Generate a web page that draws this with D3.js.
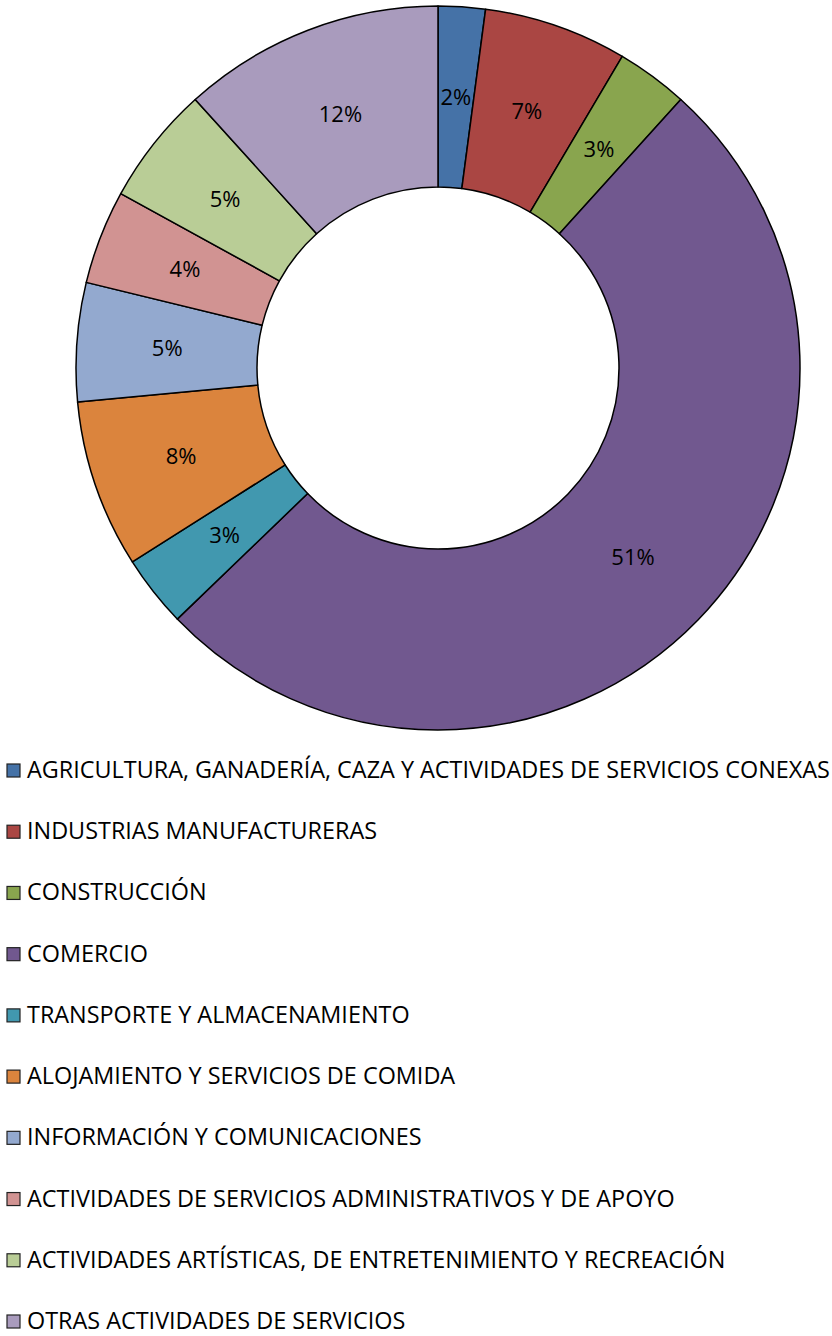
<!DOCTYPE html>
<html>
<head>
<meta charset="utf-8">
<script src="https://cdn.jsdelivr.net/npm/d3@7"></script>
<style>
  body { margin: 0; background: #fff; }
  svg { display: block; font-family: "Open Sans", sans-serif; }
</style>
</head>
<body>
<div id="container"></div>
<script>
/* DATA */
const categories = [
  "AGRICULTURA, GANADERÍA, CAZA Y ACTIVIDADES DE SERVICIOS CONEXAS",
  "INDUSTRIAS MANUFACTURERAS",
  "CONSTRUCCIÓN",
  "COMERCIO",
  "TRANSPORTE Y ALMACENAMIENTO",
  "ALOJAMIENTO Y SERVICIOS DE COMIDA",
  "INFORMACIÓN Y COMUNICACIONES",
  "ACTIVIDADES DE SERVICIOS ADMINISTRATIVOS Y DE APOYO",
  "ACTIVIDADES ARTÍSTICAS, DE ENTRETENIMIENTO Y RECREACIÓN",
  "OTRAS ACTIVIDADES DE SERVICIOS"
];
// share of each sector
const shares = [2.1, 6.4, 3.2, 51.1, 3.2, 7.5, 5.3, 4.2, 5.3, 11.7];
// labels as printed on the chart
const pctLabels = ["2%", "7%", "3%", "51%", "3%", "8%", "5%", "4%", "5%", "12%"];
const colors = ["#4572A7", "#AA4643", "#89A54E", "#71588F", "#4198AF",
                "#DB843D", "#93A9CF", "#D19392", "#B9CD96", "#A99BBD"];

/* CONSTANTS */
const width = 832, height = 1336;
const cx = 438, cy = 368;
const outerR = 362, innerR = 181;

const data = categories.map((c, i) => ({ name: c, value: shares[i], label: pctLabels[i] }));

const colorScale = d3.scaleOrdinal(categories, colors);

const svg = d3.select("#container")
  .append("svg")
  .attr("width", width)
  .attr("height", height);

/* DONUT */
const pie = d3.pie()
  .sort(null)
  .value(d => d.value);

const arc = d3.arc()
  .innerRadius(innerR)
  .outerRadius(outerR);

const g = svg.append("g")
  .attr("transform", `translate(${cx},${cy})`);

const arcs = pie(data);

g.selectAll("path.slice")
  .data(arcs)
  .join("path")
  .attr("class", "slice")
  .attr("d", arc)
  .attr("fill", d => colorScale(d.data.name))
  .attr("stroke", "#000")
  .attr("stroke-width", 1.5)
  .attr("stroke-linejoin", "round");

g.selectAll("text.pct")
  .data(arcs)
  .join("text")
  .attr("class", "pct")
  .attr("transform", d => `translate(${arc.centroid(d)})`)
  .attr("text-anchor", "middle")
  .attr("dy", "0.35em")
  .style("font-size", "22px")
  .attr("fill", "#000")
  .text(d => d.data.label);

/* LEGEND */
const legendY = d3.scalePoint()
  .domain(categories)
  .range([778, 1329]);

const legend = svg.append("g").attr("class", "legend");

const rows = legend.selectAll("g")
  .data(categories)
  .join("g")
  .attr("transform", d => `translate(0,${legendY(d)})`);

rows.append("rect")
  .attr("x", 7)
  .attr("y", -14)
  .attr("width", 13)
  .attr("height", 13)
  .attr("fill", d => colorScale(d))
  .attr("stroke", "#222")
  .attr("stroke-width", 1.2);

rows.append("text")
  .attr("x", 27)
  .attr("y", 0)
  .style("font-size", "23.4px")
  .attr("fill", "#000")
  .text(d => d);
</script>
</body>
</html>
